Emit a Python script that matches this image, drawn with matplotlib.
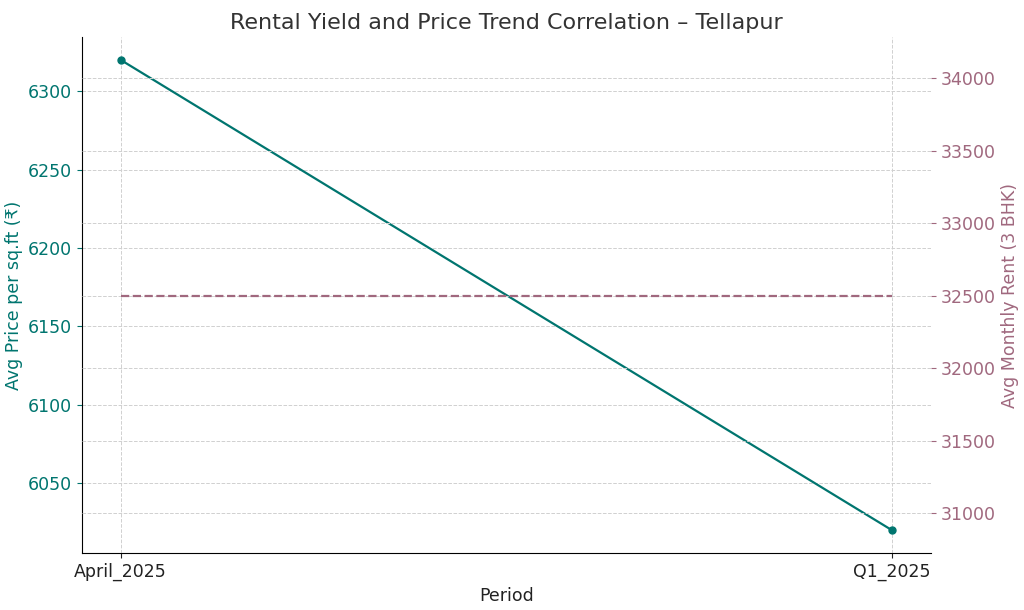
import matplotlib
matplotlib.use("Agg")
import matplotlib.pyplot as plt

periods = ["April_2025", "Q1_2025"]
price = [6320, 6020]
rent = [32500, 32500]

c1 = "#00756f"
c2 = "#a0687e"

fig = plt.figure(figsize=(10.24, 6.1), dpi=100)
ax = fig.add_axes([0.08, 0.093, 0.829, 0.846])
ax.plot(periods, price, color=c1, marker="o", markersize=5, linewidth=1.6)
ax.set_ylim(6005.4, 6334.4)
ax.set_xlim(-0.05, 1.05)
ax.set_ylabel("Avg Price per sq.ft (₹)", color=c1, fontsize=12.5)
ax.set_xlabel("Period", fontsize=12.5, color="#222222")
ax.tick_params(axis="y", colors=c1, labelsize=12.5)
ax.tick_params(axis="x", labelsize=12.5, colors="#222222")
ax.grid(True, linestyle="--", color="#d0d0d0", linewidth=0.7)
ax.spines["top"].set_visible(False)
ax.spines["right"].set_visible(False)

ax2 = ax.twinx()
ax2.plot(periods, rent, color=c2, linestyle="--", linewidth=1.6)
ax2.set_ylim(30724, 34283)
ax2.set_ylabel("Avg Monthly Rent (3 BHK)", color=c2, fontsize=12.5)
ax2.tick_params(axis="y", colors=c2, labelsize=12.5)
ax2.grid(True, linestyle="--", color="#d0d0d0", linewidth=0.7)
for s in ["top", "right", "left", "bottom"]:
    ax2.spines[s].set_visible(False)

ax.set_title("Rental Yield and Price Trend Correlation – Tellapur", fontsize=16, color="#333333")
fig.savefig("out.png", dpi=100)
